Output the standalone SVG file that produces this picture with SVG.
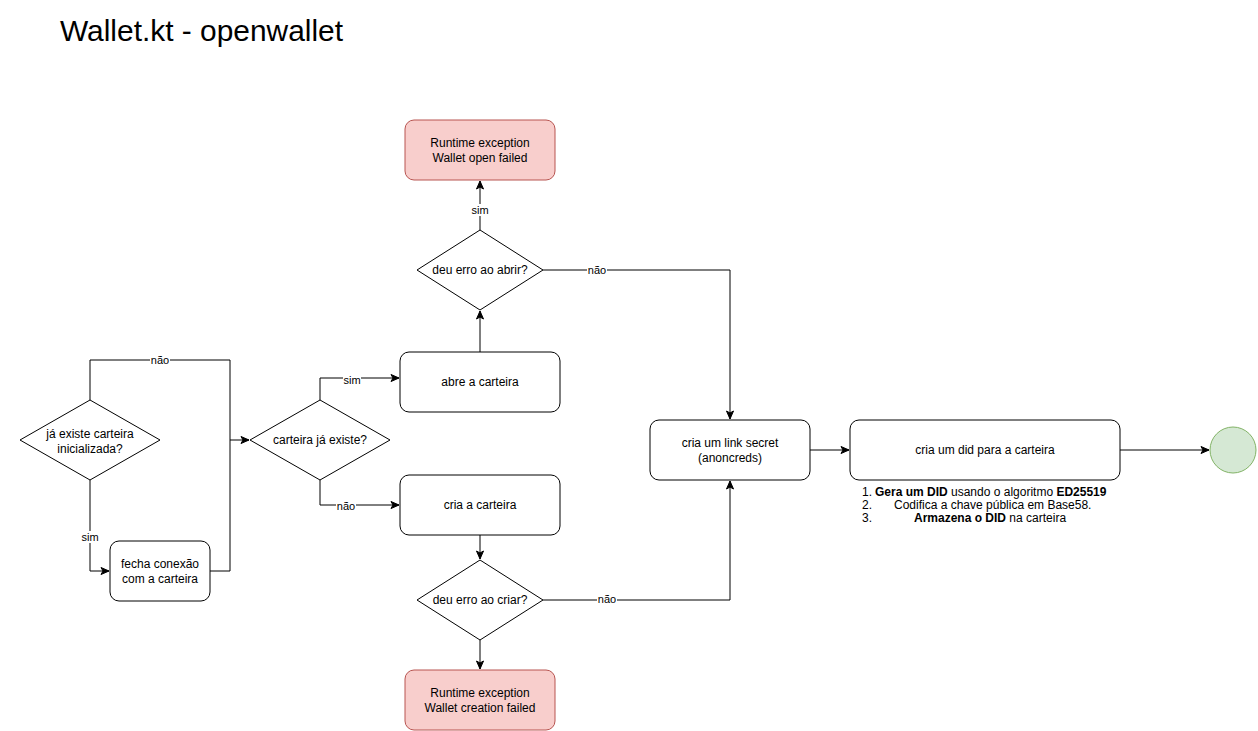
<svg xmlns="http://www.w3.org/2000/svg" width="1258" height="731" viewBox="0 0 1258 731">
<style>
text{font-family:"Liberation Sans",Arial,Helvetica,sans-serif;fill:#000}
.n{font-size:12px;text-anchor:middle}
.lbl{font-size:11px;text-anchor:middle}
.box{fill:#fff;stroke:#000;stroke-width:1}
.err{fill:#f8cecc;stroke:#b85450;stroke-width:1}
.end{fill:#d5e8d4;stroke:#82b366;stroke-width:1}
.e{fill:none;stroke:#000;stroke-width:1}
.lb{fill:#fff}
</style>
<defs>
<marker id="arr" markerUnits="userSpaceOnUse" markerWidth="10" markerHeight="10" viewBox="0 0 10 10" refX="9" refY="5" orient="auto">
<path d="M1,1.5 L9,5 L1,8.5 L3,5 Z" fill="#000" stroke="#000" stroke-width="1"/>
</marker>
</defs>
<rect width="1258" height="731" fill="#fff"/>
<text id="title" x="60" y="41" style="font-size:30px" textLength="283" lengthAdjust="spacingAndGlyphs">Wallet.kt - openwallet</text>

<g id="connectors">
<path class="e" d="M90,400 V360 H230 V440 H249" marker-end="url(#arr)"/>
<path class="e" d="M210,571 H230 V440"/>
<path class="e" d="M90,480 V571 H109" marker-end="url(#arr)"/>
<path class="e" d="M320,400 V378 H399" marker-end="url(#arr)"/>
<path class="e" d="M320,480 V505 H399" marker-end="url(#arr)"/>
<path class="e" d="M480,352 V311" marker-end="url(#arr)"/>
<path class="e" d="M480,230 V181" marker-end="url(#arr)"/>
<path class="e" d="M543,270 H730 V419" marker-end="url(#arr)"/>
<path class="e" d="M480,535 V559" marker-end="url(#arr)"/>
<path class="e" d="M480,640 V669" marker-end="url(#arr)"/>
<path class="e" d="M543,600 H730 V481" marker-end="url(#arr)"/>
<path class="e" d="M810,450 H849" marker-end="url(#arr)"/>
<path class="e" d="M1120,450 H1209" marker-end="url(#arr)"/>
<rect class="lb" x="150" y="354" width="20" height="12"/><text class="lbl" x="160" y="364">não</text>
<rect class="lb" x="81" y="531" width="18" height="12"/><text class="lbl" x="90" y="541">sim</text>
<rect class="lb" x="343" y="374" width="18" height="12"/><text class="lbl" x="352" y="384">sim</text>
<rect class="lb" x="336" y="500" width="20" height="12"/><text class="lbl" x="346" y="510">não</text>
<rect class="lb" x="471" y="204" width="18" height="12"/><text class="lbl" x="480" y="214">sim</text>
<rect class="lb" x="587" y="264" width="20" height="12"/><text class="lbl" x="597" y="274">não</text>
<rect class="lb" x="597" y="593" width="20" height="12"/><text class="lbl" x="607" y="603">não</text>
</g>

<g id="d_inicializada">
<polygon class="box" points="90,400 160,440 90,480 20,440"/>
<text class="n" x="90" y="437.5">já existe carteira</text>
<text class="n" x="90" y="452.5">inicializada?</text>
</g>
<g id="fecha">
<rect class="box" x="110" y="541" width="100" height="60" rx="9"/>
<text class="n" x="160" y="567.5">fecha conexão</text>
<text class="n" x="160" y="582.5">com a carteira</text>
</g>
<g id="d_existe">
<polygon class="box" points="320,400 390,440 320,480 250,440"/>
<text class="n" x="320" y="444.3">carteira já existe?</text>
</g>
<g id="abre">
<rect class="box" x="400" y="352" width="160" height="60" rx="9"/>
<text class="n" x="480" y="386.3">abre a carteira</text>
</g>
<g id="d_abrir">
<polygon class="box" points="480,230 543,270 480,310 417,270"/>
<text class="n" x="480" y="274.3">deu erro ao abrir?</text>
</g>
<g id="err_open">
<rect class="err" x="405" y="120" width="150" height="60" rx="9"/>
<text class="n" x="480" y="146.8">Runtime exception</text>
<text class="n" x="480" y="161.8">Wallet open failed</text>
</g>
<g id="cria">
<rect class="box" x="400" y="475" width="160" height="60" rx="9"/>
<text class="n" x="480" y="509.3">cria a carteira</text>
</g>
<g id="d_criar">
<polygon class="box" points="480,560 543,600 480,640 417,600"/>
<text class="n" x="480" y="604.3">deu erro ao criar?</text>
</g>
<g id="err_create">
<rect class="err" x="405" y="670" width="150" height="60" rx="9"/>
<text class="n" x="480" y="696.8">Runtime exception</text>
<text class="n" x="480" y="711.8">Wallet creation failed</text>
</g>
<g id="link">
<rect class="box" x="650" y="420" width="160" height="60" rx="9"/>
<text class="n" x="730" y="446.8">cria um link secret</text>
<text class="n" x="730" y="461.8">(anoncreds)</text>
</g>
<g id="did">
<rect class="box" x="850" y="420" width="270" height="60" rx="9"/>
<text class="n" x="985" y="454.3">cria um did para a carteira</text>
</g>
<g id="did_notes" style="font-size:12px">
<text x="862" y="496">1.<tspan x="875" font-weight="bold">Gera um DID</tspan> usando o algoritmo <tspan font-weight="bold">ED25519</tspan></text>
<text x="862" y="509">2.<tspan x="894">Codifica a chave pública em Base58.</tspan></text>
<text x="862" y="522">3.<tspan x="914" font-weight="bold">Armazena o DID</tspan> na carteira</text>
</g>
<g id="end">
<circle class="end" cx="1233" cy="450" r="23"/>
</g>
</svg>
